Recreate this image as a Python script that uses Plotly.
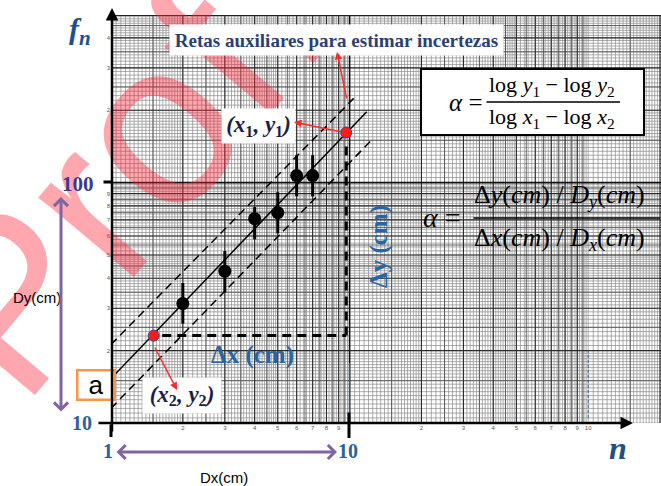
import plotly.graph_objects as go

# ---------------- data ----------------
n_vals = [2, 3, 4, 5, 6, 7]
f_vals = [31.4, 42.8, 70.8, 75.0, 107, 107]
f_upper = [38.2, 51.9, 79.1, 91.2, 130, 130]
f_lower = [25.9, 34.9, 58.1, 61.5, 87.7, 87.7]

fit_x = [1.0, 11.8]
fit_y = [15.3, 197]
aux_hi_x = [1.0, 10.4]
aux_hi_y = [21.2, 224]
aux_lo_x = [1.0, 12.4]
aux_lo_y = [11.5, 150.7]

sel_x = [1.51, 9.68]      # (x2, y2), (x1, y1)
sel_y = [23.1, 161.5]

dx_x = [1.64, 9.68]
dx_y = [23.1, 23.1]
dy_x = [9.68, 9.68]
dy_y = [23.1, 150]

blue_x10_x = [10, 10]
blue_x10_y = [10, 17.8]
blue_x100_x = [100, 100]
blue_x100_y = [10.5, 20]

x_tickvals = [2, 3, 4, 5, 6, 7, 8, 9, 20, 30, 40, 50, 60, 70, 80, 90, 100]
x_ticktext = ["2", "3", "4", "5", "6", "7", "8", "9",
              "2", "3", "4", "5", "6", "7", "8", "9", "10"]
y_tickvals = [20, 30, 40, 50, 60, 70, 80, 90, 200, 300, 400, 500]
y_ticktext = ["2", "3", "4", "5", "6", "7", "8", "9", "2", "3", "4", "5"]

x_decades = [1, 10, 100]
y_decades = [10, 100]

SERIF = "Liberation Serif, Times New Roman, serif"
SANS = "Liberation Sans, Arial, sans-serif"

# ---------------- log graph paper ----------------
def paper_values(decades):
    fine, medium, major = [], [], []
    for d in decades:
        for k in range(20, 40):
            fine.append(d * k / 20)
        for k in range(20, 50):
            fine.append(d * k / 10)
        for k in range(25, 50):
            fine.append(d * k / 5)
        for k in range(3, 20, 2):
            medium.append(d * k / 2)
        for k in range(2, 10):
            major.append(d * k)
    return fine, medium, major


def vlines(vals):
    xs, ys = [], []
    for v in vals:
        xs += [v, v, None]
        ys += [9, 2000, None]
    return xs, ys


def hlines(vals):
    xs, ys = [], []
    for v in vals:
        xs += [0.9, 3000, None]
        ys += [v, v, None]
    return xs, ys


fig = go.Figure()

xf, xm, xM = paper_values(x_decades)
yf, ym, yM = paper_values(y_decades)
styles = [
    (xf, yf, "#8a8a8a", 0.7),
    (xm, ym, "#555555", 0.9),
    (xM, yM, "#2a2a2a", 1.1),
    ([10], [100], "#111111", 1.6),
]
for gx, gy, col, wid in styles:
    vx, vy = vlines(gx)
    hx, hy = hlines(gy)
    fig.add_trace(go.Scatter(x=vx + hx, y=vy + hy, mode="lines",
                             line=dict(color=col, width=wid),
                             hoverinfo="skip", showlegend=False))

# top border of the paper
fig.add_trace(go.Scatter(x=[1, 1000], y=[497, 497], mode="lines",
                         line=dict(color="#222", width=1.4), hoverinfo="skip"))

# ---------------- lines ----------------
fig.add_trace(go.Scatter(x=aux_hi_x, y=aux_hi_y, mode="lines",
                         line=dict(color="black", width=1.5, dash="8px,5px")))
fig.add_trace(go.Scatter(x=aux_lo_x, y=aux_lo_y, mode="lines",
                         line=dict(color="black", width=1.5, dash="8px,5px")))
fig.add_trace(go.Scatter(x=fit_x, y=fit_y, mode="lines",
                         line=dict(color="black", width=1.5)))
fig.add_trace(go.Scatter(x=dx_x, y=dx_y, mode="lines",
                         line=dict(color="black", width=3, dash="9px,6px")))
fig.add_trace(go.Scatter(x=dy_x, y=dy_y, mode="lines",
                         line=dict(color="black", width=3, dash="9px,6px")))
fig.add_trace(go.Scatter(x=blue_x10_x, y=blue_x10_y, mode="lines",
                         line=dict(color="#2f5f9f", width=1)))
fig.add_trace(go.Scatter(x=blue_x100_x, y=blue_x100_y, mode="lines",
                         line=dict(color="#2f5f9f", width=1, dash="3px,2px")))

# ---------------- data points ----------------
err_plus = [u - v for u, v in zip(f_upper, f_vals)]
err_minus = [v - l for v, l in zip(f_vals, f_lower)]
fig.add_trace(go.Scatter(
    x=n_vals, y=f_vals, mode="markers",
    marker=dict(color="black", size=13),
    error_y=dict(type="data", symmetric=False, array=err_plus,
                 arrayminus=err_minus, color="black", thickness=3, width=0)))

fig.add_trace(go.Scatter(
    x=sel_x, y=sel_y, mode="markers",
    marker=dict(color="#ff1a1a", size=11, line=dict(color="#3a3f8f", width=1))))

# ---------------- annotations ----------------
L, T, W, H = 111, 15, 550, 408


def px(x):
    return (x - L) / W


def py(y):
    return (T + H - y) / H


ann = []

# watermark (drawn first so the white boxes sit on top of it)
ann.append(dict(xref="paper", yref="paper", x=px(119), y=py(167),
                text="Prof.", showarrow=False, textangle=-50,
                xanchor="center", yanchor="middle",
                font=dict(family=SANS, size=235, color="rgba(255,35,55,0.40)")))


def label(x, y, text, size, color="black", family=SERIF, angle=0,
          xanchor="center", **kw):
    ann.append(dict(xref="paper", yref="paper", x=px(x), y=py(y), text=text,
                    showarrow=False, textangle=angle, xanchor=xanchor,
                    yanchor="middle", font=dict(family=family, size=size,
                                                color=color), **kw))


def box(x, y, w, h, text="", size=12, color="black", family=SERIF,
        border=None, bw=0):
    d = dict(xref="paper", yref="paper", x=px(x), y=py(y), text=text,
             showarrow=False, xanchor="center", yanchor="middle",
             width=w, height=h, bgcolor="white", borderpad=0, align="center",
             valign="middle", font=dict(family=family, size=size, color=color))
    if border:
        d.update(bordercolor=border, borderwidth=bw)
    ann.append(d)


def arrow(x0, y0, x1, y1, color, width, head, size=1.0, side="end"):
    ann.append(dict(xref="paper", yref="paper", x=px(x1), y=py(y1),
                    ax=x0 - x1, ay=y0 - y1, text="", showarrow=True,
                    arrowhead=head, startarrowhead=head, arrowsize=size,
                    startarrowsize=size, arrowwidth=width, arrowcolor=color,
                    arrowside=side, standoff=0, startstandoff=0))


# boxes on the paper
box(336.5, 40, 333, 30, "<b>Retas auxiliares para estimar incertezas</b>",
    size=19, color="#2b3f73")
box(258, 126, 73, 34, "<b><i>(x</i><sub>1</sub><i>, y</i><sub>1</sub><i>)</i></b>",
    size=23, color="#1c1f45")
box(182, 395.5, 78, 35, "<b><i>(x</i><sub>2</sub><i>, y</i><sub>2</sub><i>)</i></b>",
    size=23, color="#1c1f45")
box(532.5, 102, 221, 64, " ", border="black", bw=2)
box(95.5, 384.5, 35, 27, "a", size=26, family=SANS, border="#f79646", bw=2.5)

# formula 1
label(465, 102, "<i>α</i> =", 25)
label(552, 86, "log <i>y</i><sub>1</sub> − log <i>y</i><sub>2</sub>", 22)
label(552, 118, "log <i>x</i><sub>1</sub> − log <i>x</i><sub>2</sub>", 22)
arrow(485, 102, 620, 102, "black", 1.6, 0)

# formula 2
label(442, 217, "<i>α</i> =", 28)
label(472, 196, "Δ<i>y</i>(<i>cm</i>) / <i>D</i><sub><i>y</i></sub>(<i>cm</i>)", 26,
      xanchor="left")
label(472, 239, "Δ<i>x</i>(<i>cm</i>) / <i>D</i><sub><i>x</i></sub>(<i>cm</i>)", 26,
      xanchor="left")
arrow(472, 218, 668, 218, "black", 1.6, 0)

# axis labels
label(80, 31, "<b><i>f</i></b><sub><b><i>n</i></b></sub>", 30, "#1f4e8c")
label(618, 448, "<b><i>n</i></b>", 32, "#1f4e8c")
label(78, 184, "<b>100</b>", 21, "#3d3a8a")
label(82, 423, "<b>10</b>", 20, "#2c5f9e")
label(108, 451, "<b>1</b>", 20, "#2c5f9e")
label(348, 451, "<b>10</b>", 20, "#2c5f9e")
label(252, 355, "<b>Δx (cm)</b>", 25, "#2b64a0")
label(379, 247, "<b>Δy (cm)</b>", 25, "#2b64a0", angle=-90)
label(37, 297, "Dy(cm)", 15, family=SANS)
label(224, 477, "Dx(cm)", 15, family=SANS)

# axes with arrows and heavy ticks
arrow(112, 433, 112, 8, "black", 2.5, 2, 1.0)
arrow(97, 423, 633, 423, "black", 2.5, 2, 1.0)
arrow(349, 411, 349, 438, "black", 3, 0)
arrow(111, 423, 111, 437, "black", 3, 0)
arrow(102, 182, 112, 182, "black", 3, 0)

# purple dimension arrows
arrow(61, 413, 61, 197, "#8064a2", 3, 4, 0.9, "end+start")
arrow(115, 452, 337, 452, "#8064a2", 3, 4, 0.9, "end+start")

# red pointer arrows
arrow(347, 100, 337, 52, "#ff2a2a", 1.5, 2, 1.0)
arrow(342, 132, 294, 122, "#ff2a2a", 1.5, 2, 1.0)
arrow(154, 346, 177, 390, "#ff2a2a", 1.5, 2, 1.0)

fig.update_layout(
    width=661, height=486,
    margin=dict(l=L, r=661 - L - W, t=T, b=486 - T - H),
    paper_bgcolor="white", plot_bgcolor="white",
    showlegend=False, hovermode=False,
    annotations=ann,
    xaxis=dict(type="log", range=[0, W / 238.6], showgrid=False,
               zeroline=False, showline=False, ticks="",
               tickmode="array", tickvals=x_tickvals, ticktext=x_ticktext,
               tickfont=dict(size=6, color="#555", family=SANS)),
    yaxis=dict(type="log", range=[1, 1 + H / 240.4], showgrid=False,
               zeroline=False, showline=False, ticks="",
               tickmode="array", tickvals=y_tickvals, ticktext=y_ticktext,
               tickfont=dict(size=6, color="#555", family=SANS)),
)

fig.write_html("out.html", config={"displayModeBar": False},
               post_script="document.body.style.margin='0';"
                           "document.body.style.overflow='hidden';")
